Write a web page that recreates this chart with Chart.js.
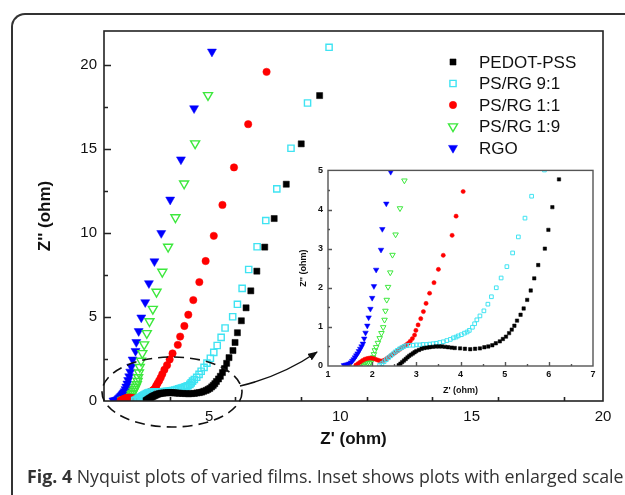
<!DOCTYPE html>
<html>
<head>
<meta charset="utf-8">
<script src="https://cdn.jsdelivr.net/npm/chart.js@4"></script>
<style>
  body { margin: 0; background: #fff; }
  #wrap { position: relative; width: 625px; height: 495px; overflow: hidden; background: #fff; }
  #frame { position: absolute; left: 11px; top: 13px; width: 640px; height: 500px;
           border-left: 2px solid #333; border-top: 2px solid #333; border-top-left-radius: 14px; }
  #main { position: absolute; left: 0; top: 0; }
  #inset { position: absolute; left: 290px; top: 160px; }
  #notes { position: absolute; left: 0; top: 0; }
  #caption { position: absolute; left: 27px; top: 464px; white-space: nowrap;
             font: 17.8px "Open Sans", sans-serif; color: #333; }
</style>
</head>
<body>
<div id="wrap">
  <div id="frame"></div>
  <canvas id="main" width="625" height="495"></canvas>
  <canvas id="inset" width="315" height="240"></canvas>
  <svg id="notes" width="625" height="495">
    <defs>
      <marker id="head" markerWidth="10" markerHeight="8" refX="9" refY="4" orient="auto" markerUnits="userSpaceOnUse">
        <path d="M0,0 L10,4 L0,8 z" fill="#111"/>
      </marker>
    </defs>
    <ellipse cx="172" cy="392" rx="70" ry="35" fill="none" stroke="#111" stroke-width="1.6" stroke-dasharray="10 6"/>
    <path d="M240,386 Q282,376 317,352" fill="none" stroke="#111" stroke-width="1.5" marker-end="url(#head)"/>
  </svg>
  <div id="caption"><b>Fig. 4</b> Nyquist plots of varied films. Inset shows plots with enlarged scale</div>
</div>
<script>
const seriesNames = ['PEDOT-PSS', 'PS/RG 9:1', 'PS/RG 1:1', 'PS/RG 1:9', 'RGO'];

const pedotX = [2.60, 2.64, 2.68, 2.72, 2.76, 2.80, 2.84, 2.88, 2.92, 2.96, 3.00, 3.06, 3.12, 3.18, 3.24, 3.30,
  3.37, 3.44, 3.51, 3.58, 3.65, 3.72, 3.80, 3.87, 3.99, 4.10, 4.22, 4.33, 4.44, 4.54, 4.63, 4.72, 4.80, 4.89,
  4.96, 5.03, 5.10, 5.16, 5.22, 5.28, 5.36, 5.43, 5.51, 5.59, 5.67, 5.76, 5.91, 5.99, 6.08, 6.23,
  6.41, 6.59, 6.82, 7.12, 7.48, 7.94, 8.51, 9.21];
const pedotY = [0.02, 0.06, 0.10, 0.14, 0.18, 0.22, 0.26, 0.29, 0.32, 0.35, 0.38, 0.41, 0.44, 0.46, 0.47, 0.48,
  0.49, 0.50, 0.50, 0.50, 0.49, 0.48, 0.47, 0.46, 0.45, 0.44, 0.43, 0.44, 0.45, 0.48, 0.50, 0.53, 0.58, 0.63,
  0.69, 0.75, 0.84, 0.93, 1.03, 1.16, 1.31, 1.47, 1.69, 1.93, 2.24, 2.58, 3.00, 3.48, 4.06, 4.77,
  5.54, 6.55, 7.72, 9.15, 10.85, 12.89, 15.29, 18.16];

const ps91X = [2.17, 2.22, 2.27, 2.32, 2.37, 2.42, 2.47, 2.52, 2.57, 2.62, 2.67, 2.72, 2.78, 2.85, 2.93, 3.00,
  3.08, 3.15, 3.23, 3.30, 3.38, 3.45, 3.53, 3.61, 3.69, 3.77, 3.84, 3.90, 3.95, 4.02, 4.09, 4.15, 4.20, 4.27,
  4.32, 4.37, 4.44, 4.53, 4.62, 4.70, 4.81, 4.92, 5.05, 5.18, 5.31, 5.46, 5.61,
  5.90, 6.08, 6.26, 6.51, 6.83, 7.16, 7.58, 8.12, 8.75, 9.57];
const ps91Y = [0.02, 0.06, 0.11, 0.16, 0.21, 0.26, 0.31, 0.36, 0.40, 0.44, 0.47, 0.50, 0.52, 0.53, 0.53, 0.54,
  0.54, 0.55, 0.55, 0.56, 0.57, 0.58, 0.60, 0.62, 0.65, 0.68, 0.72, 0.74, 0.77, 0.80, 0.84, 0.87, 0.91, 0.99,
  1.08, 1.18, 1.28, 1.41, 1.58, 1.77, 2.00, 2.25, 2.54, 2.89, 3.30, 3.78, 4.34,
  5.01, 5.75, 6.70, 7.82, 9.17, 10.73, 12.61, 15.03, 17.72, 21.03];

const ps11X = [1.63, 1.68, 1.73, 1.78, 1.83, 1.88, 1.93, 1.98, 2.03, 2.08, 2.13, 2.18, 2.23, 2.28, 2.33, 2.38,
  2.43, 2.48, 2.53, 2.58, 2.63, 2.68, 2.73, 2.78, 2.82, 2.86, 2.91, 2.96, 2.99, 3.04, 3.10, 3.16, 3.22, 3.30,
  3.40, 3.50, 3.61, 3.81, 3.90, 4.06, 4.21, 4.40, 4.63, 4.87, 5.18, 5.51, 5.95, 6.49, 7.19];
const ps11Y = [0.02, 0.06, 0.10, 0.14, 0.17, 0.19, 0.20, 0.20, 0.19, 0.17, 0.15, 0.13, 0.13, 0.15, 0.19, 0.23,
  0.27, 0.31, 0.35, 0.39, 0.43, 0.47, 0.51, 0.55, 0.58, 0.63, 0.70, 0.79, 0.91, 1.05, 1.21, 1.39, 1.60, 1.86,
  2.13, 2.47, 2.83, 3.34, 3.83, 4.46, 5.13, 6.00, 7.07, 8.32, 9.82, 11.66, 13.89, 16.46, 19.57];

const ps19X = [1.70, 1.74, 1.78, 1.82, 1.86, 1.90, 1.94, 1.97, 2.00, 2.02, 2.04, 2.06, 2.09, 2.13, 2.17, 2.21,
  2.25, 2.28, 2.30, 2.33, 2.36, 2.41, 2.46, 2.53, 2.63, 2.73, 2.86, 3.00, 3.22, 3.44, 3.72, 4.05, 4.47, 4.96];
const ps19Y = [0.02, 0.06, 0.09, 0.10, 0.10, 0.08, 0.07, 0.10, 0.15, 0.22, 0.30, 0.40, 0.48, 0.59, 0.71, 0.84,
  0.99, 1.18, 1.41, 1.69, 2.02, 2.39, 2.84, 3.36, 4.03, 4.74, 5.47, 6.49, 7.68, 9.17, 10.92, 12.93, 15.31, 18.18];

const rgoX = [1.36, 1.40, 1.44, 1.48, 1.52, 1.55, 1.58, 1.61, 1.64, 1.67, 1.70, 1.73, 1.76, 1.79, 1.82, 1.85,
  1.89, 1.92, 1.96, 2.00, 2.04, 2.09, 2.20, 2.23, 2.32, 2.42, 2.57, 2.71, 2.92, 3.18, 3.52, 3.93, 4.43, 5.11];
const rgoY = [0.02, 0.03, 0.04, 0.06, 0.09, 0.13, 0.17, 0.22, 0.27, 0.32, 0.38, 0.44, 0.50, 0.57, 0.70, 0.85,
  1.03, 1.24, 1.46, 1.74, 2.04, 2.46, 2.97, 3.50, 4.15, 4.96, 5.87, 7.00, 8.30, 9.98, 11.97, 14.36, 17.40, 20.77];

const mainXTicks = [5, 10, 15, 20];
const mainYTicks = [0, 5, 10, 15, 20];
const insetXTicks = [1, 2, 3, 4, 5, 6, 7];
const insetYTicks = [0, 1, 2, 3, 4, 5];

const pts = (xs, ys) => xs.map((x, i) => ({ x: x, y: ys[i] }));
const seriesData = [pts(pedotX, pedotY), pts(ps91X, ps91Y), pts(ps11X, ps11Y), pts(ps19X, ps19Y), pts(rgoX, rgoY)];

const CLEAR = 'rgba(0,0,0,0)';
const looks = [
  { color: '#000000', style: 'rect', fill: true, r: 4.3, ri: 2.4 },
  { color: '#3fe3f2', style: 'rect', fill: false, r: 4.4, ri: 2.6 },
  { color: '#ff0000', style: 'circle', fill: true, r: 3.7, ri: 2.1 },
  { color: '#3de83d', style: 'triangle', fill: false, r: 5.2, ri: 3.2 },
  { color: '#0000ff', style: 'triangle', fill: true, r: 5.2, ri: 3.2 }
];

function makeSets(small) {
  return seriesData.map((d, i) => {
    const lk = looks[i];
    return {
      label: seriesNames[i],
      data: d,
      showLine: false,
      pointStyle: lk.style,
      pointRotation: lk.style === 'triangle' ? 180 : 0,
      pointRadius: small ? lk.ri : lk.r,
      pointBorderWidth: lk.fill ? 0.5 : (small ? 1 : 1.4),
      pointBorderColor: lk.color,
      pointBackgroundColor: lk.fill ? lk.color : CLEAR
    };
  });
}

// box round the plot plus inward major/minor ticks on bottom and left
const frameTicks = {
  id: 'frameTicks',
  afterDatasetsDraw(chart, args, o) {
    const { ctx, chartArea: a, scales: { x, y } } = chart;
    ctx.save();
    ctx.strokeStyle = o.color;
    ctx.lineWidth = o.width;
    ctx.strokeRect(a.left, a.top, a.right - a.left, a.bottom - a.top);
    ctx.beginPath();
    const n1 = Math.round((x.max - x.min) / o.xMinor);
    for (let k = 1; k < n1; k++) {
      const v = x.min + k * o.xMinor;
      const major = Math.abs(v / o.xMajor - Math.round(v / o.xMajor)) < 1e-6;
      const px = Math.round(x.getPixelForValue(v)) + 0.5;
      ctx.moveTo(px, a.bottom);
      ctx.lineTo(px, a.bottom - (major ? o.major : o.minor));
    }
    const n2 = Math.round((y.max - y.min) / o.yMinor);
    for (let k = 1; k < n2; k++) {
      const v = y.min + k * o.yMinor;
      const major = Math.abs(v / o.yMajor - Math.round(v / o.yMajor)) < 1e-6;
      const py = Math.round(y.getPixelForValue(v)) + 0.5;
      ctx.moveTo(a.left, py);
      ctx.lineTo(a.left + (major ? o.major : o.minor), py);
    }
    ctx.stroke();
    ctx.restore();
  }
};

// legend drawn inside the plot with the datasets' own point styles
const innerLegend = {
  id: 'innerLegend',
  afterDatasetsDraw(chart, args, o) {
    if (!o.show) return;
    const ctx = chart.ctx;
    ctx.save();
    ctx.font = '17px "Liberation Sans", Arial, sans-serif';
    ctx.fillStyle = '#111';
    ctx.textBaseline = 'middle';
    chart.data.datasets.forEach((ds, i) => {
      const yy = o.y + i * o.step;
      ctx.fillStyle = ds.pointBackgroundColor;
      ctx.strokeStyle = ds.pointBorderColor;
      ctx.lineWidth = ds.pointBorderWidth;
      Chart.helpers.drawPoint(ctx, {
        pointStyle: ds.pointStyle, rotation: ds.pointRotation,
        radius: ds.pointRadius, borderWidth: ds.pointBorderWidth
      }, o.x, yy);
      ctx.fillStyle = '#111';
      ctx.fillText(ds.label, o.x + 26, yy + 1);
    });
    ctx.restore();
  }
};

function axis(min, max, ticks, size, bold, pad, title, titleSize, fit) {
  return {
    type: 'linear', min: min, max: max,
    afterBuildTicks: s => { s.ticks = ticks.map(v => ({ value: v })); },
    afterFit: fit,
    grid: { display: false, drawTicks: false },
    border: { display: false },
    ticks: { padding: pad, color: '#111',
             font: { family: '"Liberation Sans", Arial, sans-serif', size: size, weight: bold ? 'bold' : 'normal' } },
    title: { display: true, text: title, color: '#111', padding: 0,
             font: { family: '"Liberation Sans", Arial, sans-serif', size: titleSize, weight: 'bold' } }
  };
}

new Chart(document.getElementById('main'), {
  type: 'scatter',
  data: { datasets: makeSets(false) },
  plugins: [frameTicks, innerLegend],
  options: {
    responsive: false,
    animation: false,
    layout: { padding: { left: 35, top: 31, right: 22, bottom: 45 } },
    plugins: {
      legend: { display: false },
      tooltip: { enabled: false },
      frameTicks: { color: '#222', width: 1.6, major: 7, minor: 4, xMinor: 2.5, xMajor: 5, yMinor: 2.5, yMajor: 5 },
      innerLegend: { show: true, x: 453, y: 62, step: 21.5 }
    },
    scales: {
      x: axis(1, 20, mainXTicks, 15, false, 7, "Z' (ohm)", 17, s => { s.height = 49; }),
      y: axis(0, 22, mainYTicks, 15, false, 7, "Z'' (ohm)", 17, s => { s.width = 69; })
    }
  }
});

new Chart(document.getElementById('inset'), {
  type: 'scatter',
  data: { datasets: makeSets(true) },
  plugins: [frameTicks, innerLegend],
  options: {
    responsive: false,
    animation: false,
    layout: { padding: { left: 8, top: 9, right: 12, bottom: 4 } },
    plugins: {
      legend: { display: false },
      tooltip: { enabled: false },
      frameTicks: { color: '#555', width: 1.4, major: 4, minor: 2, xMinor: 0.5, xMajor: 1, yMinor: 0.5, yMajor: 1 },
      innerLegend: { show: false }
    },
    scales: {
      x: axis(1, 7, insetXTicks, 9, true, 3, "Z' (ohm)", 9, s => { s.height = 30; }),
      y: axis(0, 5, insetYTicks, 9, true, 5, "Z'' (ohm)", 9, s => { s.width = 30; })
    }
  }
});
</script>
</body>
</html>
